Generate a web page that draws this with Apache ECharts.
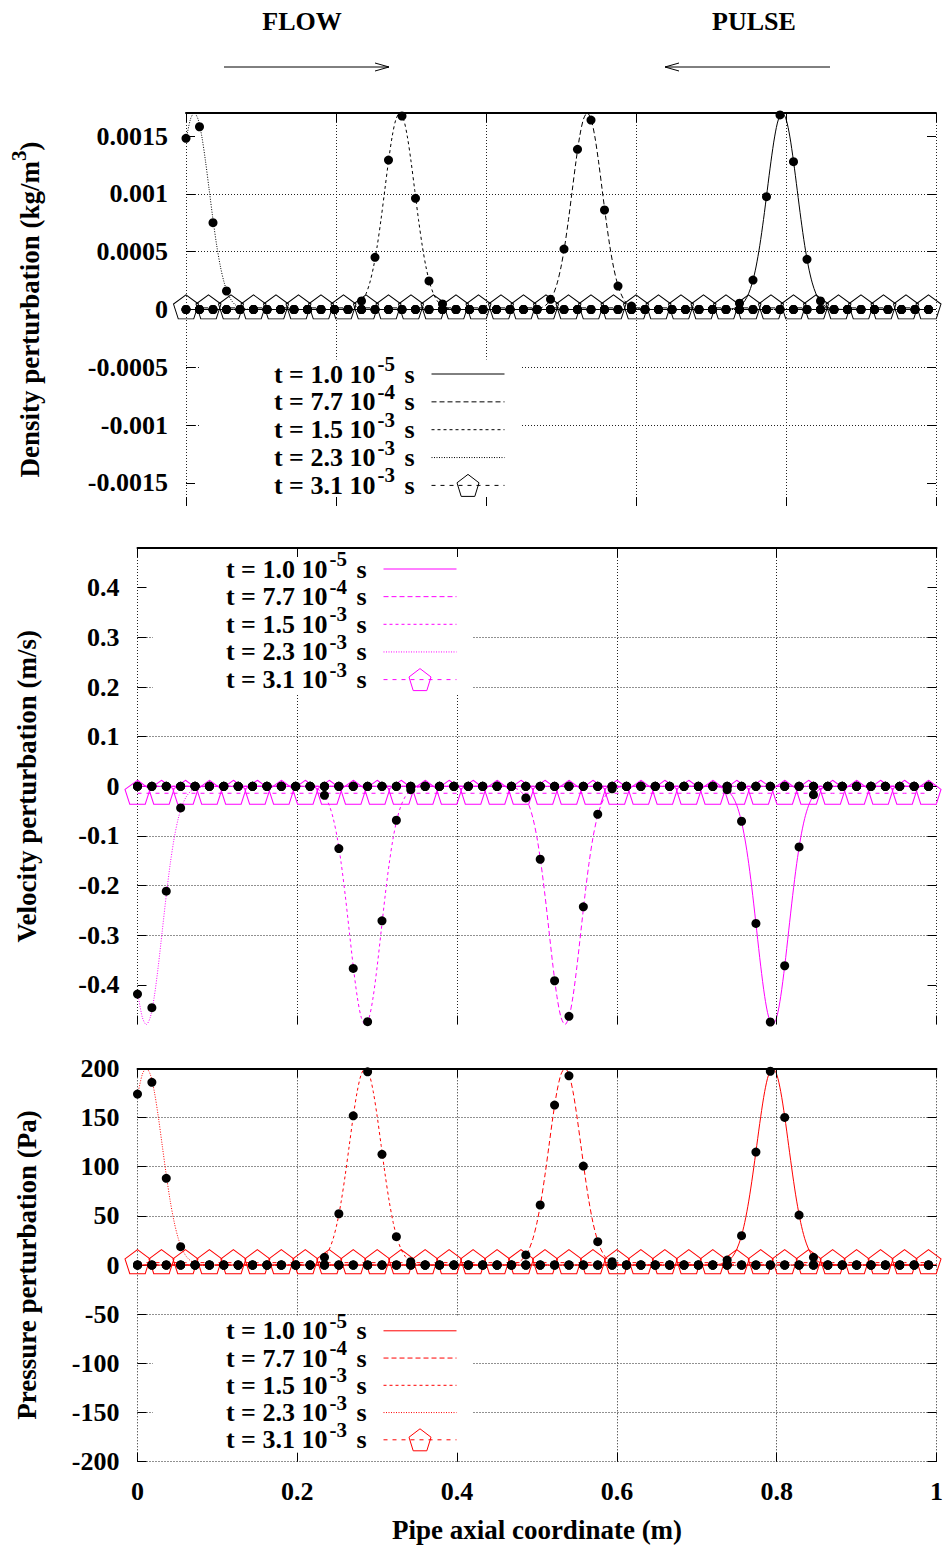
<!DOCTYPE html>
<html>
<head>
<meta charset="utf-8">
<script src="https://cdn.jsdelivr.net/npm/echarts@6/dist/echarts.min.js"></script>
<style>
  html, body { margin: 0; padding: 0; background: #fff; }
  #chart { width: 948px; height: 1547px; }
</style>
</head>
<body>
<div id="chart"></div>
<script>
// ---------------------------------------------------------------------------
// Acoustic pulse travelling along a pipe: density, velocity and pressure
// perturbations at five instants. Lines: computed solution; dots: reference
// solution sampled on a coarse grid.
// ---------------------------------------------------------------------------

// Coarse grid of the reference solution (m)
const gridX = [0, 0.018, 0.036, 0.054, 0.072, 0.09, 0.108, 0.126, 0.144, 0.162,
  0.18, 0.198, 0.216, 0.234, 0.252, 0.27, 0.288, 0.306, 0.324, 0.342,
  0.36, 0.378, 0.396, 0.414, 0.432, 0.45, 0.468, 0.486, 0.504, 0.522,
  0.54, 0.558, 0.576, 0.594, 0.612, 0.63, 0.648, 0.666, 0.684, 0.702,
  0.72, 0.738, 0.756, 0.774, 0.792, 0.81, 0.828, 0.846, 0.864, 0.882,
  0.9, 0.918, 0.936, 0.954, 0.972, 0.99];

// Marker positions of the last instant (m)
const lateX = [0, 0.03, 0.06, 0.09, 0.12, 0.15, 0.18, 0.21, 0.24, 0.27, 0.3, 0.33,
  0.36, 0.39, 0.42, 0.45, 0.48, 0.51, 0.54, 0.57, 0.6, 0.63, 0.66, 0.69,
  0.72, 0.75, 0.78, 0.81, 0.84, 0.87, 0.9, 0.93, 0.96, 0.99];

// Instants: mantissa and power of ten (s)
const timeMantissa = ['1.0', '7.7', '1.5', '2.3', '3.1'];
const timeExponent = ['-5', '-4', '-3', '-3', '-3'];

// Abscissae of the computed curves, one array per instant (m)
const curveX1 = [0, 0.71, 0.725, 0.73, 0.735, 0.74, 0.745, 0.75, 0.755, 0.76, 0.765, 0.77, 0.775,
  0.78, 0.785, 0.79, 0.795, 0.8, 0.805, 0.81, 0.815, 0.82, 0.825, 0.83, 0.835, 0.84,
  0.845, 0.85, 0.855, 0.86, 0.865, 0.88, 1];
const curveX2 = [0, 0.45, 0.465, 0.47, 0.475, 0.48, 0.485, 0.49, 0.495, 0.5, 0.505, 0.51, 0.515,
  0.52, 0.525, 0.53, 0.535, 0.54, 0.545, 0.55, 0.555, 0.56, 0.565, 0.57, 0.575, 0.58,
  0.585, 0.59, 0.595, 0.6, 0.605, 0.62, 1];
const curveX3 = [0, 0.2, 0.215, 0.22, 0.225, 0.23, 0.235, 0.24, 0.245, 0.25, 0.255, 0.26, 0.265,
  0.27, 0.275, 0.28, 0.285, 0.29, 0.295, 0.3, 0.305, 0.31, 0.315, 0.32, 0.325, 0.33,
  0.335, 0.34, 0.345, 0.35, 0.355, 0.37, 1];
const curveX4 = [0, 0.006, 0.011, 0.016, 0.021, 0.026, 0.031, 0.036, 0.041, 0.046, 0.051,
  0.056, 0.061, 0.066, 0.071, 0.076, 0.081, 0.096, 1];

// Density perturbation (kg/m^3)
const densityPulse = [0, 0, 0.0000037, 0.0000087, 0.0000189, 0.0000388, 0.0000746, 0.0001353,
  0.00023, 0.0003677, 0.000552, 0.0007783, 0.001031, 0.0012832, 0.0015003, 0.0016476, 0.0017,
  0.0016476, 0.0015003, 0.0012832, 0.001031, 0.0007783, 0.000552, 0.0003677, 0.00023,
  0.0001353, 0.0000746, 0.0000388, 0.0000189, 0.0000087, 0.0000037, 0, 0];
const densityInlet = [0.0014613, 0.0016476, 0.0017, 0.0016476, 0.0015003, 0.0012832, 0.001031,
  0.0007783, 0.000552, 0.0003677, 0.00023, 0.0001353, 0.0000746, 0.0000388, 0.0000189,
  0.0000087, 0.0000037, 0, 0];
const densityLate = [0.000014, 0.000014, 0.000014, 0.000014, 0.000014, 0.000014, 0.000014, 0.000014, 0.000014, 0.000014,
  0.000014, 0.000014, 0.000014, 0.000014, 0.000014, 0.000014, 0.000014, 0.000014, 0.000014, 0.000014,
  0.000014, 0.000014, 0.000014, 0.000014, 0.000014, 0.000014, 0.000014, 0.000014, 0.000014, 0.000014,
  0.000014, 0.000014, 0.000014, 0.000014];
const densityDots1 = [0.000054, 0.000255, 0.000976, 0.001683, 0.001279, 0.000434, 0.000074];
const densityDots2 = [0.000088, 0.000523, 0.001386, 0.001639, 0.000861, 0.000203, 0.00003];
const densityDots3 = [0.000074, 0.000451, 0.001293, 0.001674, 0.000962, 0.000247, 0.000048];
const densityDots4 = [0.001481, 0.001581, 0.000751, 0.00016];

// Velocity perturbation (m/s)
const velocityPulse = [0, 0, -0.0011, -0.0024, -0.0053, -0.0109, -0.0211, -0.0382, -0.0649,
  -0.1038, -0.1559, -0.2197, -0.2911, -0.3623, -0.4236, -0.4652, -0.48,
  -0.4652, -0.4236, -0.3623, -0.2911, -0.2197, -0.1559, -0.1038, -0.0649,
  -0.0382, -0.0211, -0.0109, -0.0053, -0.0024, -0.0011, 0, 0];
const velocityInlet = [-0.4126, -0.4652, -0.48, -0.4652, -0.4236, -0.3623, -0.2911, -0.2197,
  -0.1559, -0.1038, -0.0649, -0.0382, -0.0211, -0.0109, -0.0053, -0.0024, -0.0011, 0, 0];
const velocityLate = [-0.014, -0.014, -0.014, -0.014, -0.014, -0.014, -0.014, -0.014, -0.014, -0.014,
  -0.014, -0.014, -0.014, -0.014, -0.014, -0.014, -0.014, -0.014, -0.014, -0.014,
  -0.014, -0.014, -0.014, -0.014, -0.014, -0.014, -0.014, -0.014, -0.014, -0.014,
  -0.014, -0.014, -0.014, -0.014];
const velocityDots1 = [-0.0067, -0.0704, -0.2763, -0.4748, -0.3615, -0.1221, -0.0168];
const velocityDots2 = [-0.0235, -0.1469, -0.3917, -0.4634, -0.2428, -0.0563, -0.005];
const velocityDots3 = [-0.0181, -0.1254, -0.3668, -0.4742, -0.271, -0.0684, -0.0067];
const velocityDots4 = [-0.4185, -0.446, -0.2113, -0.0436];

// Pressure perturbation (Pa)
const pressurePulse = [0, 0, 0.44, 1.02, 2.22, 4.56, 8.78, 15.92, 27.06, 43.26, 64.94, 91.56,
  121.3, 150.96, 176.5, 193.84, 200, 193.84, 176.5, 150.96, 121.3, 91.56, 64.94, 43.26,
  27.06, 15.92, 8.78, 4.56, 2.22, 1.02, 0.44, 0, 0];
const pressureInlet = [171.9, 193.8, 200, 193.8, 176.5, 151, 121.3, 91.6, 64.9, 43.3, 27.1,
  15.9, 8.8, 4.6, 2.2, 1, 0.4, 0, 0];
const pressureLate = [2.4, 2.4, 2.4, 2.4, 2.4, 2.4, 2.4, 2.4, 2.4, 2.4,
  2.4, 2.4, 2.4, 2.4, 2.4, 2.4, 2.4, 2.4, 2.4, 2.4,
  2.4, 2.4, 2.4, 2.4, 2.4, 2.4, 2.4, 2.4, 2.4, 2.4,
  2.4, 2.4, 2.4, 2.4];
const pressureDots1 = [5, 29.8, 114.8, 197, 150, 50.8, 7.8];
const pressureDots2 = [10.2, 61, 162.6, 192.4, 100.6, 23.7, 3.4];
const pressureDots3 = [7.8, 52.1, 151.7, 196.4, 112.5, 28.8, 3.4];
const pressureDots4 = [173.8, 185.7, 88.1, 18.6];

// First grid index of the non-zero reference samples of each instant
const dotStart = [41, 27, 13, 0];

// Tick values
const densityTicks = [-0.0015, -0.001, -0.0005, 0, 0.0005, 0.001, 0.0015];
const velocityTicks = [-0.4, -0.3, -0.2, -0.1, 0, 0.1, 0.2, 0.3, 0.4];

// ---------------------------------------------------------------------------
const FONT = '"Liberation Serif", "Times New Roman", serif';
const lineTypes = ['solid', [5, 3], [3, 3], [1, 1.5], [4, 5]];
const PENTAGON = 'path://M0,-1L0.951,-0.309L0.588,0.809L-0.588,0.809L-0.951,-0.309Z';

function timeLabel(i) {
  return 't = ' + timeMantissa[i] + ' 10{sup|' + timeExponent[i] + '} s{gap| }';
}

function buildPanel(p, key, color, curves, lateVals, dotSets) {
  const series = [];
  const xi = 3 * p, yi = 2 * p;
  curves.forEach((c, k) => {
    series.push({
      name: key + ' ' + k,
      type: 'line',
      xAxisIndex: xi, yAxisIndex: yi,
      data: c[0].map((x, i) => [x, c[1][i]]),
      symbol: 'none', showSymbol: false,
      smooth: 0.3,
      lineStyle: { color: color, width: 1, type: lineTypes[k] },
      itemStyle: { color: color },
      z: 2, silent: true
    });
  });
  series.push({
    name: key + ' 4',
    type: 'line',
    xAxisIndex: xi, yAxisIndex: yi,
    data: lateX.map((x, i) => [x, lateVals[i]]),
    symbol: PENTAGON, symbolSize: [25, 24], symbolOffset: [0, -1],
    showSymbol: true,
    lineStyle: { color: color, width: 1, type: lineTypes[4] },
    itemStyle: { color: 'rgba(0,0,0,0)', borderColor: color, borderWidth: 1 },
    z: 3, silent: true
  });
  dotSets.forEach((peak, k) => {
    const start = dotStart[k];
    series.push({
      name: key + ' ref ' + k,
      type: 'scatter',
      xAxisIndex: xi, yAxisIndex: yi,
      data: gridX.map((x, i) => {
        const j = i - start;
        return [x, (j >= 0 && j < peak.length) ? peak[j] : 0];
      }),
      symbol: 'circle', symbolSize: 9,
      itemStyle: { color: '#000', opacity: 1 },
      z: 4, silent: true
    });
  });
  return series;
}

// Legend rows: the raised exponent makes each text block taller than a row,
// a negative gap brings the rows back to the wanted pitch.
const LEGEND_TEXT_H = 34.3;
function buildLegend(key, color, top, right, pitch) {
  const data = [];
  for (let k = 0; k < 5; k++) {
    data.push(k < 4
      ? { name: key + ' ' + k, itemStyle: { opacity: 0 } }
      : { name: key + ' ' + k, itemStyle: { borderWidth: 1, borderColor: color, color: 'rgba(0,0,0,0)' } });
  }
  return {
    orient: 'vertical', top: top, right: right, align: 'right',
    itemWidth: 73, itemHeight: 27.5, itemGap: pitch - LEGEND_TEXT_H,
    padding: [-6, 15, 0, 73], backgroundColor: '#fff',
    selectedMode: false, z: 5,
    lineStyle: { width: 1, color: color },
    formatter: name => timeLabel(+name.split(' ')[1]),
    textStyle: {
      fontFamily: FONT, fontWeight: 'bold', fontSize: 26, color: '#000', lineHeight: 27.5,
      rich: {
        sup: { fontFamily: FONT, fontWeight: 'bold', fontSize: 21, padding: [0, 3, 20, 2] },
        gap: { width: 12, fontSize: 26 }
      }
    },
    data: data
  };
}

const labelStyle = { fontFamily: FONT, fontWeight: 'bold', fontSize: 26, color: '#000' };
const gridLine = { show: true, lineStyle: { color: '#222', width: 1, type: [1, 2] } };
const innerTick = { show: true, inside: true, length: 9, lineStyle: { color: '#000', width: 1 } };

function xAxes(g, showLabels) {
  const base = { type: 'value', gridIndex: g, min: 0, max: 1, interval: 0.2 };
  return [
    Object.assign({}, base, {
      position: 'bottom',
      axisLine: { show: false, onZero: false },
      axisTick: { show: false },
      axisLabel: Object.assign({ show: showLabels, margin: 17 }, labelStyle),
      splitLine: gridLine,
      name: showLabels ? 'Pipe axial coordinate (m)' : '',
      nameLocation: 'middle', nameGap: 55,
      nameTextStyle: { fontFamily: FONT, fontWeight: 'bold', fontSize: 27, color: '#000' }
    }),
    Object.assign({}, base, {
      position: 'top', z: 6,
      axisLine: { show: true, onZero: false, lineStyle: { color: '#000', width: 2 } },
      axisTick: innerTick,
      axisLabel: { show: false },
      splitLine: { show: false }
    }),
    Object.assign({}, base, {
      position: 'bottom', z: 6,
      axisLine: { show: false, onZero: false },
      axisTick: innerTick,
      axisLabel: { show: false },
      splitLine: { show: false }
    })
  ];
}

function yAxes(g, range, ticks, fmt, title, gap) {
  const tickOpt = Object.assign({}, innerTick, ticks ? { customValues: ticks } : {});
  const base = { type: 'value', gridIndex: g, min: range[0], max: range[1] };
  if (!ticks) base.interval = 50;
  else base.splitNumber = ticks.length + 1;
  return [
    Object.assign({}, base, {
      position: 'left',
      axisLine: { show: false, onZero: false },
      axisTick: tickOpt,
      axisLabel: Object.assign({ margin: 18, formatter: fmt }, labelStyle),
      splitLine: Object.assign({ showMinLine: !ticks, showMaxLine: false }, gridLine),
      name: title, nameLocation: 'middle', nameGap: gap,
      nameTextStyle: {
        fontFamily: FONT, fontWeight: 'bold', fontSize: 27, color: '#000', lineHeight: 30,
        rich: { sup: { fontFamily: FONT, fontWeight: 'bold', fontSize: 21, padding: [0, 0, 22, 0], lineHeight: 30 } }
      }
    }),
    Object.assign({}, base, {
      position: 'right', z: 6,
      axisLine: { show: false, onZero: false },
      axisTick: tickOpt,
      axisLabel: { show: false },
      splitLine: { show: false }
    })
  ];
}

const series = [].concat(
  buildPanel(0, 'density', '#000',
    [[curveX1, densityPulse], [curveX2, densityPulse], [curveX3, densityPulse], [curveX4, densityInlet]],
    densityLate, [densityDots1, densityDots2, densityDots3, densityDots4]),
  buildPanel(1, 'velocity', '#ff00ff',
    [[curveX1, velocityPulse], [curveX2, velocityPulse], [curveX3, velocityPulse], [curveX4, velocityInlet]],
    velocityLate, [velocityDots1, velocityDots2, velocityDots3, velocityDots4]),
  buildPanel(2, 'pressure', '#ff0000',
    [[curveX1, pressurePulse], [curveX2, pressurePulse], [curveX3, pressurePulse], [curveX4, pressureInlet]],
    pressureLate, [pressureDots1, pressureDots2, pressureDots3, pressureDots4])
);

const option = {
  animation: false,
  backgroundColor: '#fff',
  textStyle: { fontFamily: FONT, fontWeight: 'bold', color: '#000' },
  grid: [
    { left: 186, right: 12, top: 113, height: 393 },
    { left: 137.5, right: 11.5, top: 548, height: 476.6 },
    { left: 137.5, right: 11.5, top: 1068.3, height: 393.4 }
  ],
  xAxis: [].concat(xAxes(0, false), xAxes(1, false), xAxes(2, true)),
  yAxis: [].concat(
    yAxes(0, [-0.0017, 0.0017], densityTicks,
      v => Math.abs(v) > 0.0016 ? '' : String(parseFloat(v.toFixed(4))),
      'Density perturbation (kg/m{sup|3})', 141),
    yAxes(1, [-0.48, 0.48], velocityTicks,
      v => Math.abs(v) > 0.45 ? '' : String(parseFloat(v.toFixed(1))),
      'Velocity perturbation (m/s)', 95.5),
    yAxes(2, [-200, 200], null,
      v => String(v),
      'Pressure perturbation (Pa)', 95.5)
  ),
  legend: [
    buildLegend('density', '#000', 359.5, 428, 27.9),
    buildLegend('velocity', '#ff00ff', 554.5, 476, 27.7),
    buildLegend('pressure', '#ff0000', 1316.3, 476, 27.3)
  ],
  graphic: [
    { type: 'text', x: 302, y: 21, style: { text: 'FLOW', font: 'bold 26px ' + FONT, fill: '#000', align: 'center', verticalAlign: 'middle', textAlign: 'center', textVerticalAlign: 'middle' } },
    { type: 'text', x: 754, y: 21, style: { text: 'PULSE', font: 'bold 26px ' + FONT, fill: '#000', align: 'center', verticalAlign: 'middle', textAlign: 'center', textVerticalAlign: 'middle' } },
    { type: 'line', shape: { x1: 224, y1: 67, x2: 389, y2: 67 }, style: { stroke: '#000', lineWidth: 1 } },
    { type: 'polyline', shape: { points: [[375, 63], [389, 67], [375, 71]] }, style: { stroke: '#000', lineWidth: 1, fill: null } },
    { type: 'line', shape: { x1: 665, y1: 67, x2: 830, y2: 67 }, style: { stroke: '#000', lineWidth: 1 } },
    { type: 'polyline', shape: { points: [[679, 63], [665, 67], [679, 71]] }, style: { stroke: '#000', lineWidth: 1, fill: null } }
  ],
  series: series
};

const chart = echarts.init(document.getElementById('chart'), null, { renderer: 'svg' });
chart.setOption(option);
</script>
</body>
</html>
